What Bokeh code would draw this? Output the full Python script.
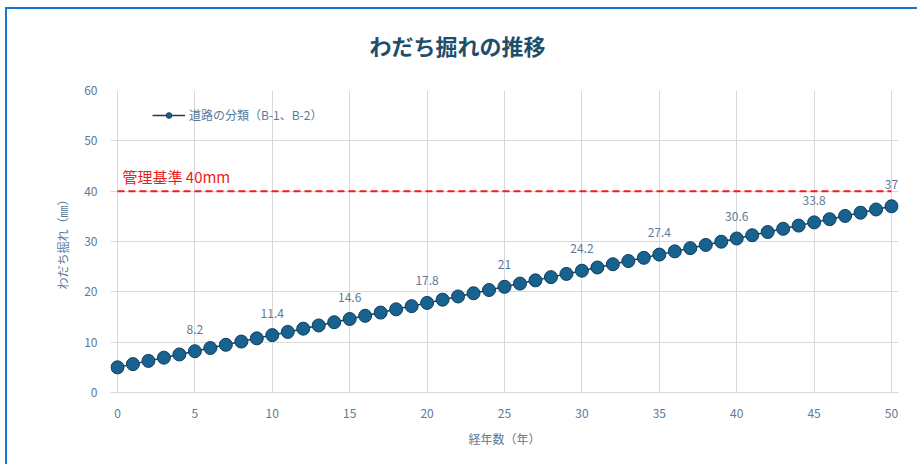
from bokeh.plotting import figure
from bokeh.models import Range1d, FixedTicker, Legend, LegendItem, InlineStyleSheet
from bokeh.core.properties import value
from bokeh.embed import file_html
from bokeh.resources import INLINE

# ---- data ----
years = list(range(0, 51))
rut_depth = [5.00, 5.64, 6.28, 6.92, 7.56, 8.20, 8.84, 9.48, 10.12, 10.76,
             11.40, 12.04, 12.68, 13.32, 13.96, 14.60, 15.24, 15.88, 16.52, 17.16,
             17.80, 18.44, 19.08, 19.72, 20.36, 21.00, 21.64, 22.28, 22.92, 23.56,
             24.20, 24.84, 25.48, 26.12, 26.76, 27.40, 28.04, 28.68, 29.32, 29.96,
             30.60, 31.24, 31.88, 32.52, 33.16, 33.80, 34.44, 35.08, 35.72, 36.36,
             37.00]
x_ticks = [0, 5, 10, 15, 20, 25, 30, 35, 40, 45, 50]
y_ticks = [0, 10, 20, 30, 40, 50, 60]
limit_value = 40
limit_text = "管理基準 40mm"
series_name = "道路の分類（B-1、B-2）"
title_text = "わだち掘れの推移"
x_title = "経年数（年）"
y_title = "わだち掘れ（㎜）"

JP = "Noto Sans CJK JP"
TICK_COLOR = "#5b7a99"
GRID = "#d9d9d9"

p = figure(width=917, height=464, output_backend="svg", toolbar_location=None,
           x_range=Range1d(-0.45, 50.45), y_range=Range1d(0, 60),
           min_border_left=110, min_border_right=19, min_border_top=90,
           min_border_bottom=72)
p.stylesheets = [InlineStyleSheet(css=(
    ":host { position: relative; }"
    ":host::after { content: ''; position: absolute; left: 5px; top: 7px; "
    "right: 0; bottom: 0; border-top: 2px solid #1478d0; "
    "border-left: 2px solid #1478d0; pointer-events: none; z-index: 100; }"))]
p.outline_line_color = None
p.background_fill_color = "white"
p.border_fill_color = "white"

p.title.text = title_text
p.title.align = "left"
p.title.offset = 259
p.title.standoff = 55
p.title.vertical_align = "top"
p.title.text_font = JP
p.title.text_font_size = "22px"
p.title.text_font_style = "bold"
p.title.text_color = "#1f4e6b"

p.xaxis.ticker = FixedTicker(ticks=x_ticks)
p.yaxis.ticker = FixedTicker(ticks=y_ticks)
for ax in (p.xaxis[0], p.yaxis[0]):
    ax.major_tick_line_color = None
    ax.minor_tick_line_color = None
    ax.major_label_text_font = JP
    ax.major_label_text_font_size = "12px"
    ax.major_label_text_color = TICK_COLOR
    ax.axis_label_text_font = JP
    ax.axis_label_text_font_size = "12px"
    ax.axis_label_text_font_style = "normal"
    ax.axis_label_text_color = TICK_COLOR
p.xaxis.axis_line_color = GRID
p.yaxis.axis_line_color = None
p.xaxis.major_label_standoff = 10
p.yaxis.major_label_standoff = 7
p.xaxis.axis_label = x_title
p.yaxis.axis_label = y_title
p.xaxis.axis_label_standoff = 9
p.yaxis.axis_label_standoff = 10

p.xgrid.ticker = FixedTicker(ticks=x_ticks)
p.ygrid.ticker = FixedTicker(ticks=y_ticks)
p.xgrid.grid_line_color = GRID
p.ygrid.grid_line_color = GRID

# limit line
p.line(x=[years[0], years[-1]], y=[limit_value, limit_value], line_color="#ee1c1c",
       line_width=2, line_dash="7 4")
p.text(x=[years[0]], y=[limit_value], text=[limit_text], text_font=value(JP),
       text_font_size="15px", text_color="#ee1c1c", text_baseline="bottom",
       x_offset=5, y_offset=-4)

# series
ln = p.line(years, rut_depth, line_color="#1e3d52", line_width=1.5)
sc = p.scatter(years, rut_depth, size=13, fill_color="#17628f", line_color="#0e3e5e",
               line_width=1)

# data labels every 5 years (excluding year 0)
lx = [x for x in years if x % 5 == 0 and x > 0]
ly = [rut_depth[years.index(x)] for x in lx]
lt = [f"{v:g}" for v in ly]
p.text(x=lx, y=ly, text=lt, text_font=value(JP), text_font_size="12px",
       text_color=TICK_COLOR, text_align="center", text_baseline="middle",
       y_offset=-22)

legend = Legend(items=[LegendItem(label=series_name, renderers=[ln, sc])],
                location=(42, 269), border_line_color=None,
                background_fill_alpha=0, padding=0, margin=0,
                glyph_width=33, glyph_height=14, label_standoff=4,
                label_text_font=JP, label_text_font_size="12px",
                label_text_color=TICK_COLOR)
p.add_layout(legend)

open("out.html", "w").write(file_html(p, INLINE))
